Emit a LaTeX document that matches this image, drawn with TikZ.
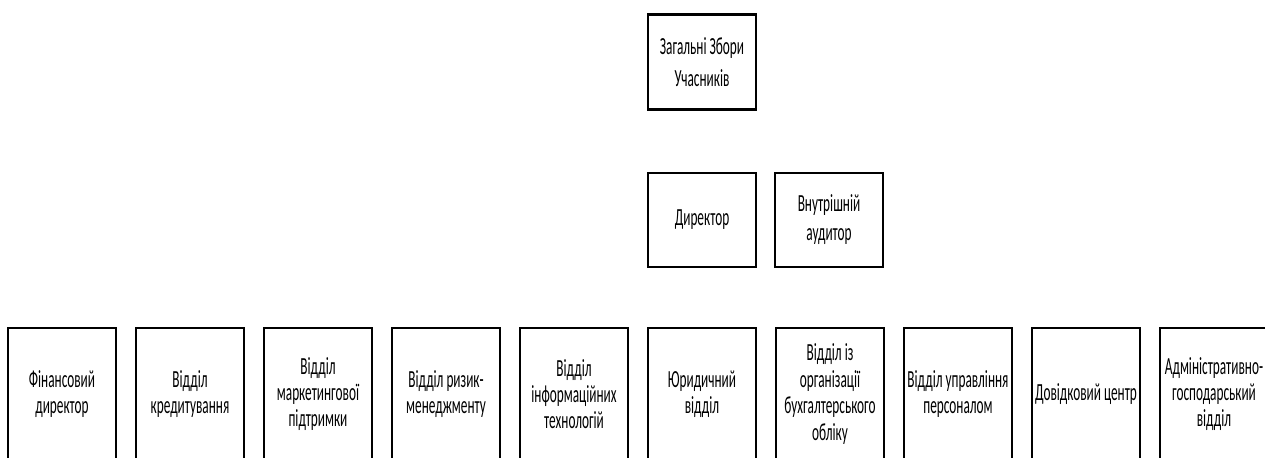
\documentclass[tikz,border=0pt]{standalone}
\usepackage{fontspec}
\setmainfont{Carlito}[FakeStretch=0.54]
\tikzset{
	unitbox/.style={draw, line width=1.2pt, align=center, inner sep=0pt, minimum width=2.16cm},
	topbox/.style={unitbox, minimum height=1.9cm, font=\fontsize{14}{18}\selectfont},
	midbox/.style={unitbox, minimum height=1.88cm, font=\fontsize{14}{16.5}\selectfont},
	deptbox/.style={unitbox, minimum height=2.64cm, font=\fontsize{14}{15}\selectfont}
}

\begin{document}
\begin{tikzpicture}[x=0.02cm, y=-0.02cm]
			%%%%% START %%%%%
			
			\clip (0, 0) rectangle (1265, 457);
			
			\node[topbox] (meeting) at (702, 62) {Загальні Збори\\Учасників};
			
			\node[midbox] (director) at (702, 220) {Директор};
			\node[midbox] (auditor) at (829, 220) {Внутрішній\\аудитор};
			
			\node[deptbox] (finance) at (62, 394) {Фінансовий\\директор};
			\node[deptbox] (credit) at (190, 394) {Відділ\\кредитування};
			\node[deptbox] (marketing) at (318, 394) {Відділ\\маркетингової\\підтримки};
			\node[deptbox] (risk) at (446, 394) {Відділ ризик-\\менеджменту};
			\node[deptbox] (infotech) at (574, 394) {Відділ\\інформаційних\\технологій};
			\node[deptbox] (legal) at (702, 394) {Юридичний\\відділ};
			\node[deptbox] (accounting) at (830, 394) {Відділ із\\організації\\бухгалтерського\\обліку};
			\node[deptbox] (personnel) at (958, 394) {Відділ управління\\персоналом};
			\node[deptbox] (helpdesk) at (1086, 394) {Довідковий центр};
			\node[deptbox] (admin) at (1214, 394) {Адміністративно-\\господарський\\відділ};
			
			%%%%% END %%%%%
\end{tikzpicture}
\end{document}
